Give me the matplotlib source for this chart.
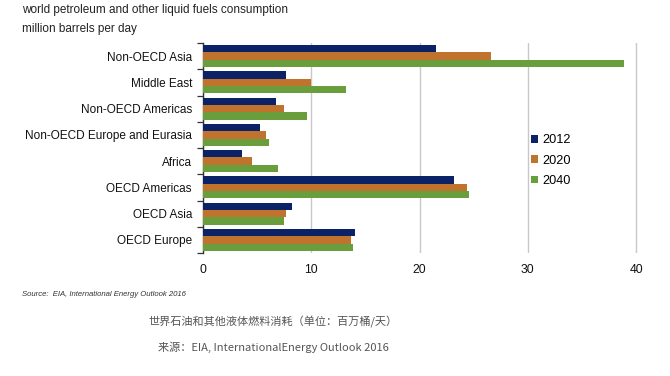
import matplotlib.pyplot as plt
import numpy as np

# data
regions = ['Non-OECD Asia', 'Middle East', 'Non-OECD Americas',
           'Non-OECD Europe and Eurasia', 'Africa', 'OECD Americas',
           'OECD Asia', 'OECD Europe']
years = ['2012', '2020', '2040']
v2012 = [21.5, 7.7, 6.7, 5.3, 3.6, 23.2, 8.2, 14.0]
v2020 = [26.6, 10.0, 7.5, 5.8, 4.5, 24.4, 7.7, 13.7]
v2040 = [38.9, 13.2, 9.6, 6.1, 6.9, 24.6, 7.5, 13.9]
colors = ['#0b2266', '#c0732d', '#6a9e3c']

plt.rcParams['font.family'] = ['Liberation Sans', 'DejaVu Sans']

fig = plt.figure(figsize=(6.7, 3.76), dpi=100)
ax = fig.add_axes([203 / 670, 1 - 253 / 376, (655 - 203) / 670, (253 - 43) / 376])

n = len(regions)
y = np.arange(n)
h = 0.28
for i, (vals, c, lab) in enumerate(zip([v2012, v2020, v2040], colors, years)):
    ax.barh(y + (i - 1) * h, vals, height=h, color=c, label=lab, zorder=3)

ax.set_ylim(n - 0.5, -0.5)
ax.set_xlim(0, 40 * (655 - 203) / (636 - 203))
ax.set_xticks([0, 10, 20, 30, 40])
ax.set_yticks(y)
ax.set_yticklabels(regions, fontsize=8.5, color='#111111')
ax.tick_params(axis='y', length=0, pad=8)
ax.set_yticks(np.arange(n + 1) - 0.5, minor=True)
ax.tick_params(axis='y', which='minor', length=4, width=0.9, color='#333333')
ax.tick_params(axis='x', length=0, labelsize=8.7, labelcolor='#111111', pad=8)
ax.grid(axis='x', color='#c8c8c8', linewidth=1, zorder=0)
for s in ['top', 'right', 'bottom']:
    ax.spines[s].set_visible(False)
ax.spines['left'].set_color('#333333')
ax.spines['left'].set_linewidth(1.0)

leg = ax.legend(loc='upper left', bbox_to_anchor=((525 - 203) / (655 - 203), 0.595),
                frameon=False, fontsize=9.2, handlelength=0.55, handleheight=0.55,
                handletextpad=0.3, labelspacing=0.65, borderpad=0)

fig.text(22 / 670, 1 - 10 / 376, 'world petroleum and other liquid fuels consumption',
         fontsize=8.5, color='#222222', va='center')
fig.text(22 / 670, 1 - 29 / 376, 'million barrels per day',
         fontsize=8.5, color='#222222', va='center')
fig.text(22 / 670, 1 - 295 / 376, 'Source:  EIA, International Energy Outlook 2016',
         fontsize=5.6, style='italic', color='#333333', va='center')
fig.text(273 / 670, 1 - 322 / 376, '世界石油和其他液体燃料消耗（单位：百万桶/天）',
         fontsize=8, color='#555555', ha='center', va='center',
         family=['Noto Sans CJK SC', 'DejaVu Sans'])
fig.text(273 / 670, 1 - 347 / 376, '来源：EIA, InternationalEnergy Outlook 2016',
         fontsize=8, color='#555555', ha='center', va='center',
         family=['Noto Sans CJK SC', 'DejaVu Sans'])

fig.savefig('out.png', dpi=100)
